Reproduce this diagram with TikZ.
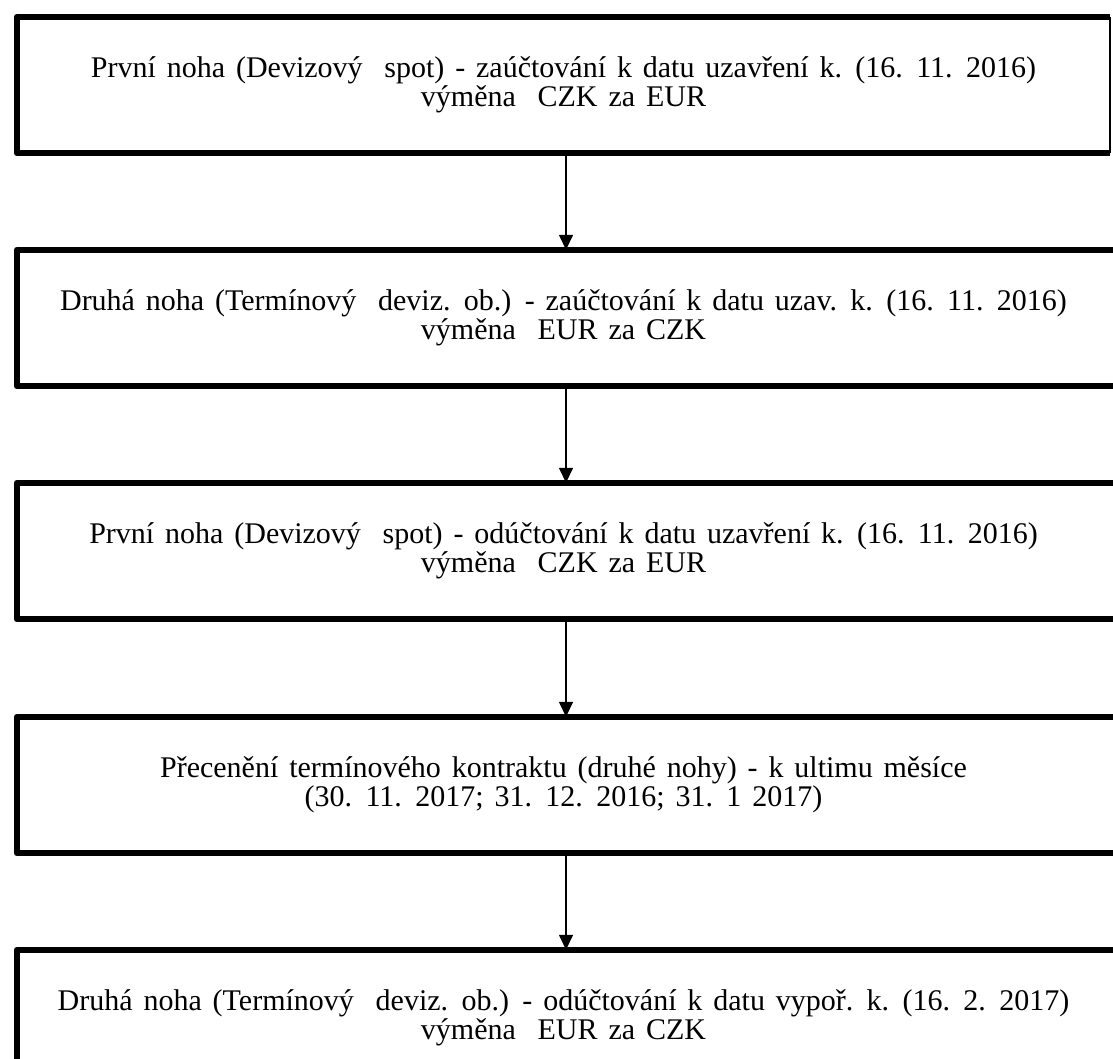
\documentclass[tikz,border=0pt]{standalone}
\usepackage{fontspec}
\setmainfont{Liberation Serif}[WordSpace=1.45]
\usetikzlibrary{arrows.meta,calc}
\begin{document}
\begin{tikzpicture}[x=1pt,y=1pt,
  boxnode/.style={rectangle,draw=none,minimum width=1093pt,minimum height=136pt,
    align=center,font=\fontsize{30}{29}\selectfont,inner sep=0pt},
  thickborder/.style={line width=6pt,line join=round},
  thinborder/.style={line width=2.5pt},
  conn/.style={line width=1.5pt,-{Triangle[width=14pt,length=15pt]}}]
\useasboundingbox (0,0) rectangle (1113,-1059);
\clip (0,0) rectangle (1113,-1059);
\fill[white] (0,0) rectangle (1113,-1059);
\node[boxnode] (b1) at (563.5,-85) {První noha (Devizový \ spot) - zaúčtování k datu uzavření k. (16. 11. 2016)\\výměna \ CZK za EUR};
\node[boxnode] (b2) at (563.5,-318) {Druhá noha (Termínový \ deviz. ob.) - zaúčtování k datu uzav. k. (16. 11. 2016)\\výměna \ EUR za CZK};
\node[boxnode] (b3) at (563.5,-551) {První noha (Devizový \ spot) - odúčtování k datu uzavření k. (16. 11. 2016)\\výměna \ CZK za EUR};
\node[boxnode] (b4) at (563.5,-785) {Přecenění termínového kontraktu (druhé nohy) - k ultimu měsíce\\(30. 11. 2017; 31. 12. 2016; 31. 1 2017)};
\node[boxnode] (b5) at (563.5,-1018) {Druhá noha (Termínový \ deviz. ob.) - odúčtování k datu vypoř. k. (16. 2. 2017)\\výměna \ EUR za CZK};
% box 1 border
\draw[thickborder] (b1.north east) -- (b1.north west) -- (b1.south west) -- (b1.south east);
\draw[thinborder] (b1.north east) -- (b1.south east);
% boxes 2-5, open to the right (cut by the picture edge)
\foreach \b in {b2,b3,b4,b5}{
  \draw[thickborder] ($(\b.north east)+(30,0)$) -- (\b.north west) -- (\b.south west) -- ($(\b.south east)+(30,0)$);
}
\draw[conn] ([xshift=2.5pt]b1.south) -- ([xshift=2.5pt]b2.north);
\draw[conn] ([xshift=2.5pt]b2.south) -- ([xshift=2.5pt]b3.north);
\draw[conn] ([xshift=2.5pt]b3.south) -- ([xshift=2.5pt]b4.north);
\draw[conn] ([xshift=2.5pt]b4.south) -- ([xshift=2.5pt]b5.north);
\end{tikzpicture}
\end{document}
